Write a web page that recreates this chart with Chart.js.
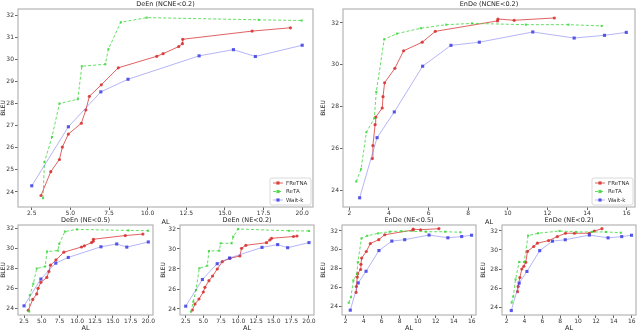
<!DOCTYPE html>
<html>
<head>
<meta charset="utf-8">
<script src="https://cdn.jsdelivr.net/npm/chart.js@4"></script>
<style>
body { margin: 0; background: #fff; width: 640px; height: 332px; overflow: hidden; position: relative; }
canvas { position: absolute; }
</style>
</head>
<body>
<canvas id="topDe" width="320" height="226" style="left:0;top:0"></canvas>
<canvas id="topEn" width="320" height="226" style="left:320px;top:0"></canvas>
<canvas id="deA" width="160" height="118" style="left:0;top:214px"></canvas>
<canvas id="deB" width="160" height="118" style="left:160px;top:214px"></canvas>
<canvas id="enA" width="160" height="118" style="left:320px;top:214px"></canvas>
<canvas id="enB" width="160" height="118" style="left:480px;top:214px"></canvas>
<script>
// DeEn, NCNE<0.2 (same curves in NE<0.5 panel)
const deFreX = [3.10, 3.73, 4.29, 4.48, 4.87, 5.71, 6.00, 6.23, 7.00, 8.10, 10.59, 11.00, 12.01, 12.25, 12.27, 16.76, 19.24];
const deFreY = [23.84, 24.92, 25.47, 26.03, 26.62, 27.11, 27.71, 28.33, 28.85, 29.62, 30.14, 30.26, 30.58, 30.71, 30.91, 31.28, 31.43];
const deRetaX = [3.23, 3.32, 3.81, 4.29, 5.48, 5.74, 7.26, 7.46, 8.26, 9.94, 17.19, 19.97];
const deRetaY = [23.72, 25.35, 26.49, 28.00, 28.20, 29.69, 29.78, 30.46, 31.68, 31.89, 31.79, 31.76];
const deWaitX = [2.50, 4.87, 6.97, 8.73, 13.33, 15.55, 16.97, 20.00];
const deWaitY = [24.28, 26.95, 28.53, 29.10, 30.16, 30.44, 30.13, 30.64];

// DeEn, NE<0.2
const de2FreX = [3.44, 3.82, 4.38, 5.00, 5.23, 5.80, 6.32, 6.98, 7.69, 8.77, 10.19, 10.43, 11.04, 13.97, 14.44, 14.68, 17.80, 18.30];
const de2FreY = [23.90, 24.50, 25.00, 25.70, 26.17, 26.83, 27.30, 28.00, 28.73, 29.07, 29.30, 30.07, 30.37, 30.63, 30.90, 31.07, 31.25, 31.30];
const de2RetaX = [3.25, 3.58, 3.96, 4.43, 5.56, 5.80, 7.26, 7.46, 9.01, 9.24, 9.95, 17.20, 20.00];
const de2RetaY = [23.73, 24.73, 25.90, 28.07, 28.33, 29.80, 29.83, 30.57, 30.57, 31.23, 32.00, 31.82, 31.80];

// EnDe, NCNE<0.2 (same curves in NE<0.5 panel)
const enFreX = [3.16, 3.19, 3.30, 3.33, 3.66, 3.70, 3.78, 4.30, 4.74, 5.68, 6.34, 9.48, 9.50, 10.32, 12.35];
const enFreY = [25.51, 26.13, 27.13, 27.49, 27.93, 28.47, 29.14, 29.83, 30.67, 31.08, 31.60, 32.10, 32.19, 32.13, 32.24];
const enRetaX = [2.35, 2.59, 2.86, 3.26, 3.36, 3.76, 4.40, 5.61, 6.89, 8.19, 10.91, 13.06, 14.74];
const enRetaY = [24.41, 25.00, 26.77, 27.44, 28.70, 31.22, 31.49, 31.75, 31.92, 31.98, 31.92, 31.92, 31.86];
const enWaitX = [2.52, 3.40, 4.27, 5.70, 7.13, 8.56, 11.26, 13.35, 14.88, 15.98];
const enWaitY = [23.63, 26.51, 27.74, 29.93, 30.93, 31.08, 31.57, 31.28, 31.41, 31.55];

// EnDe, NE<0.2
const en2FreX = [3.22, 3.29, 3.48, 3.70, 3.92, 4.14, 4.33, 5.03, 5.44, 6.70, 7.67, 8.59, 9.59, 11.26, 11.81, 12.67];
const en2FreY = [25.61, 26.17, 27.10, 28.00, 28.28, 28.70, 29.85, 30.37, 30.72, 30.99, 31.41, 31.76, 31.76, 31.76, 32.00, 32.24];
const en2RetaX = [2.56, 2.74, 3.00, 3.40, 3.96, 4.40, 5.51, 7.92, 9.78, 11.56, 13.11, 14.78];
const en2RetaY = [24.47, 25.10, 26.90, 28.74, 28.74, 31.51, 31.76, 32.00, 31.90, 31.90, 31.90, 31.82];

const names = ['FReTNA', 'ReTA', 'Wait-k'];
const deTicksX = [2.5, 5.0, 7.5, 10.0, 12.5, 15.0, 17.5, 20.0];
const enTicksX = [2, 4, 6, 8, 10, 12, 14, 16];
const topDeTicksY = [24, 25, 26, 27, 28, 29, 30, 31, 32];
const evenTicksY = [24, 26, 28, 30, 32];

Chart.defaults.font.family = "'DejaVu Sans', sans-serif";
Chart.defaults.color = '#333';

const styles = [
    { line: 'rgba(214,45,45,0.75)', mark: 'rgba(214,45,45,0.85)', shape: 'circle', r: 1.6, dash: [], w: 1 },
    { line: 'rgba(60,215,60,0.8)', mark: 'rgba(60,215,60,0.85)', shape: 'rect', r: 1.5, dash: [3, 2], w: 1 },
    { line: 'rgba(90,90,235,0.45)', mark: 'rgba(60,60,230,0.85)', shape: 'rect', r: 2.2, dash: [], w: 1 }
];

function series(xs, ys, i) {
    const st = styles[i];
    return {
        label: names[i],
        data: xs.map((x, k) => ({ x: x, y: ys[k] })),
        borderColor: st.line,
        backgroundColor: st.mark,
        pointBackgroundColor: st.mark,
        pointBorderColor: st.mark,
        pointBorderWidth: 0,
        pointStyle: st.shape,
        pointRadius: st.r,
        borderWidth: st.w,
        borderDash: st.dash,
        tension: 0,
        order: 3 - i
    };
}

const frame = {
    id: 'frame',
    afterDraw(chart) {
        const a = chart.chartArea, c = chart.ctx;
        c.save();
        c.strokeStyle = '#b5b5b5';
        c.lineWidth = 1.2;
        c.strokeRect(a.left, a.top, a.right - a.left, a.bottom - a.top);
        c.restore();
    }
};

const boxLegend = {
    id: 'boxLegend',
    afterDraw(chart) {
        const a = chart.chartArea, c = chart.ctx;
        const w = 41, h = 27;
        const x0 = a.right - 2 - w, y0 = a.bottom - 2 - h;
        c.save();
        c.fillStyle = 'rgba(255,255,255,0.85)';
        c.strokeStyle = '#d0d0d0';
        c.lineWidth = 0.8;
        c.beginPath();
        c.roundRect(x0, y0, w, h, 2);
        c.fill();
        c.stroke();
        c.font = "5.5px 'DejaVu Sans'";
        c.textBaseline = 'middle';
        chart.data.datasets.forEach((ds, i) => {
            const st = styles[i];
            const y = y0 + 5 + i * 8.5;
            c.strokeStyle = st.line;
            c.lineWidth = 1;
            c.setLineDash(st.dash);
            c.beginPath();
            c.moveTo(x0 + 3, y);
            c.lineTo(x0 + 13, y);
            c.stroke();
            c.setLineDash([]);
            c.fillStyle = st.mark;
            c.fillRect(x0 + 8 - 1.6, y - 1.6, 3.2, 3.2);
            c.fillStyle = '#333';
            c.fillText(ds.label, x0 + 16, y + 0.3);
        });
        c.restore();
    }
};

function draw(id, cfg) {
    const ticksOf = list => s => { s.ticks = list.map(v => ({ value: v })); };
    new Chart(document.getElementById(id), {
        type: 'line',
        data: { datasets: cfg.sets },
        options: {
            responsive: false,
            animation: false,
            layout: { padding: { left: 0, right: cfg.padRight, top: 0, bottom: 0 } },
            plugins: {
                legend: { display: false },
                tooltip: { enabled: false },
                title: {
                    display: true,
                    text: cfg.title,
                    fullSize: false,
                    color: '#222',
                    font: { size: 6.5, weight: 'normal' },
                    padding: { top: cfg.titleTop, bottom: 1.2 }
                }
            },
            scales: {
                x: {
                    type: 'linear',
                    min: cfg.xr[0], max: cfg.xr[1],
                    afterBuildTicks: ticksOf(cfg.xt),
                    afterFit: s => { s.height = cfg.xh; },
                    grid: { drawOnChartArea: false, drawTicks: true, tickLength: 3, color: '#666' },
                    border: { display: false },
                    ticks: { font: { size: 6 }, padding: 0, maxRotation: 0,
                        callback: v => cfg.xfix ? v.toFixed(1) : String(v) },
                    title: { display: true, text: 'AL', font: { size: 6.5 }, padding: 0, color: '#222' }
                },
                y: {
                    min: cfg.yr[0], max: cfg.yr[1],
                    afterBuildTicks: ticksOf(cfg.yt),
                    afterFit: s => { s.width = cfg.yw; },
                    grid: { drawOnChartArea: false, drawTicks: true, tickLength: 3, color: '#666' },
                    border: { display: false },
                    ticks: { font: { size: 6 }, padding: 1 },
                    title: { display: true, text: 'BLEU', font: { size: 6 }, padding: 0, color: '#222' }
                }
            }
        },
        plugins: cfg.legend ? [frame, boxLegend] : [frame]
    });
}

draw('topDe', {
    title: 'DeEn (NCNE<0.2)', titleTop: 0, legend: true,
    sets: [series(deFreX, deFreY, 0), series(deRetaX, deRetaY, 1), series(deWaitX, deWaitY, 2)],
    xr: [1.61, 20.7], yr: [23.32, 32.28], xt: deTicksX, yt: topDeTicksY, xfix: true,
    xh: 19, yw: 18, padRight: 7
});
draw('topEn', {
    title: 'EnDe (NCNE<0.2)', titleTop: 0, legend: true,
    sets: [series(enFreX, enFreY, 0), series(enRetaX, enRetaY, 1), series(enWaitX, enWaitY, 2)],
    xr: [1.68, 16.42], yr: [23.19, 32.67], xt: enTicksX, yt: evenTicksY, xfix: false,
    xh: 19, yw: 23, padRight: 5
});
draw('deA', {
    title: 'DeEn (NE<0.5)', titleTop: 2,
    sets: [series(deFreX, deFreY, 0), series(deRetaX, deRetaY, 1), series(deWaitX, deWaitY, 2)],
    xr: [1.65, 20.66], yr: [23.37, 32.33], xt: deTicksX, yt: evenTicksY, xfix: true,
    xh: 17, yw: 18, padRight: 7
});
draw('deB', {
    title: 'DeEn (NE<0.2)', titleTop: 2,
    sets: [series(de2FreX, de2FreY, 0), series(de2RetaX, de2RetaY, 1), series(deWaitX, deWaitY, 2)],
    xr: [1.69, 20.71], yr: [23.4, 32.4], xt: deTicksX, yt: evenTicksY, xfix: true,
    xh: 17, yw: 20, padRight: 6
});
draw('enA', {
    title: 'EnDe (NE<0.5)', titleTop: 2,
    sets: [series(enFreX, enFreY, 0), series(enRetaX, enRetaY, 1), series(enWaitX, enWaitY, 2)],
    xr: [1.6, 16.47], yr: [23.12, 32.63], xt: enTicksX, yt: evenTicksY, xfix: false,
    xh: 17, yw: 22, padRight: 4
});
draw('enB', {
    title: 'EnDe (NE<0.2)', titleTop: 2,
    sets: [series(en2FreX, en2FreY, 0), series(en2RetaX, en2RetaY, 1), series(enWaitX, enWaitY, 2)],
    xr: [1.48, 16.48], yr: [23.16, 32.63], xt: enTicksX, yt: evenTicksY, xfix: false,
    xh: 17, yw: 22, padRight: 3
});
</script>
</body>
</html>
